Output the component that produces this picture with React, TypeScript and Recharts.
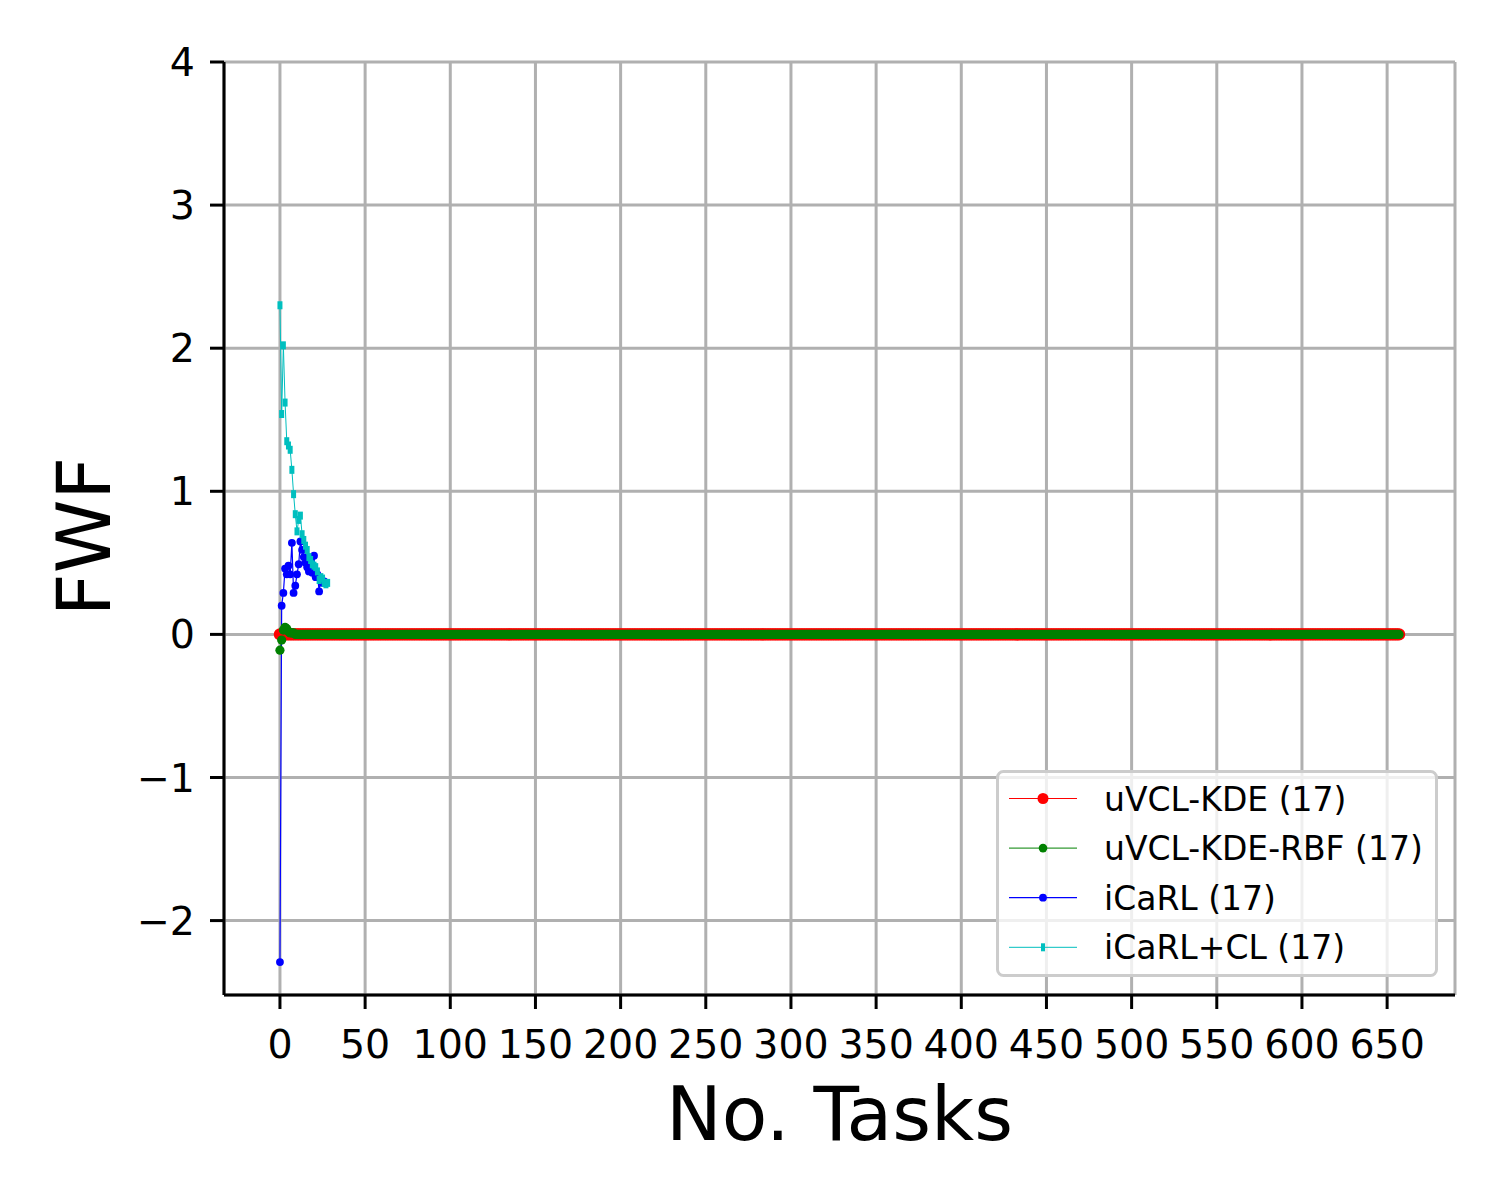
import React from "react";
import {
  LineChart,
  Line,
  XAxis,
  YAxis,
  CartesianGrid,
  Legend,
  Label,
} from "recharts";

// tick labels
const X_TICKS = [0, 50, 100, 150, 200, 250, 300, 350, 400, 450, 500, 550, 600, 650];
const Y_TICKS = [-2, -1, 0, 1, 2, 3, 4];

// FWF per task index (0..657)
const UVCL_KDE = [
  0,0,0,0,0,0,0,0,0,0, 0,0,0,0,0,0,0,0,0,0, 0,0,0,0,0,0,0,0,0,0, 0,0,0,0,0,0,0,0,0,0,
  0,0,0,0,0,0,0,0,0,0, 0,0,0,0,0,0,0,0,0,0, 0,0,0,0,0,0,0,0,0,0, 0,0,0,0,0,0,0,0,0,0,
  0,0,0,0,0,0,0,0,0,0, 0,0,0,0,0,0,0,0,0,0, 0,0,0,0,0,0,0,0,0,0, 0,0,0,0,0,0,0,0,0,0,
  0,0,0,0,0,0,0,0,0,0, 0,0,0,0,0,0,0,0,0,0, 0,0,0,0,0,0,0,0,0,0, 0,0,0,0,0,0,0,0,0,0,
  0,0,0,0,0,0,0,0,0,0, 0,0,0,0,0,0,0,0,0,0, 0,0,0,0,0,0,0,0,0,0, 0,0,0,0,0,0,0,0,0,0,
  0,0,0,0,0,0,0,0,0,0, 0,0,0,0,0,0,0,0,0,0, 0,0,0,0,0,0,0,0,0,0, 0,0,0,0,0,0,0,0,0,0,
  0,0,0,0,0,0,0,0,0,0, 0,0,0,0,0,0,0,0,0,0, 0,0,0,0,0,0,0,0,0,0, 0,0,0,0,0,0,0,0,0,0,
  0,0,0,0,0,0,0,0,0,0, 0,0,0,0,0,0,0,0,0,0, 0,0,0,0,0,0,0,0,0,0, 0,0,0,0,0,0,0,0,0,0,
  0,0,0,0,0,0,0,0,0,0, 0,0,0,0,0,0,0,0,0,0, 0,0,0,0,0,0,0,0,0,0, 0,0,0,0,0,0,0,0,0,0,
  0,0,0,0,0,0,0,0,0,0, 0,0,0,0,0,0,0,0,0,0, 0,0,0,0,0,0,0,0,0,0, 0,0,0,0,0,0,0,0,0,0,
  0,0,0,0,0,0,0,0,0,0, 0,0,0,0,0,0,0,0,0,0, 0,0,0,0,0,0,0,0,0,0, 0,0,0,0,0,0,0,0,0,0,
  0,0,0,0,0,0,0,0,0,0, 0,0,0,0,0,0,0,0,0,0, 0,0,0,0,0,0,0,0,0,0, 0,0,0,0,0,0,0,0,0,0,
  0,0,0,0,0,0,0,0,0,0, 0,0,0,0,0,0,0,0,0,0, 0,0,0,0,0,0,0,0,0,0, 0,0,0,0,0,0,0,0,0,0,
  0,0,0,0,0,0,0,0,0,0, 0,0,0,0,0,0,0,0,0,0, 0,0,0,0,0,0,0,0,0,0, 0,0,0,0,0,0,0,0,0,0,
  0,0,0,0,0,0,0,0,0,0, 0,0,0,0,0,0,0,0,0,0, 0,0,0,0,0,0,0,0,0,0, 0,0,0,0,0,0,0,0,0,0,
  0,0,0,0,0,0,0,0,0,0, 0,0,0,0,0,0,0,0,0,0, 0,0,0,0,0,0,0,0,0,0, 0,0,0,0,0,0,0,0,0,0,
  0,0,0,0,0,0,0,0,0,0, 0,0,0,0,0,0,0,0,
];

const UVCL_KDE_RBF = [
  -0.11,-0.04,0.03,0.05,0.04,0.02,0.01,0.01,0.01,0, 0,0,0,0,0,0,0,0,0,0, 0,0,0,0,0,0,0,0,0,0, 0,0,0,0,0,0,0,0,0,0,
  0,0,0,0,0,0,0,0,0,0, 0,0,0,0,0,0,0,0,0,0, 0,0,0,0,0,0,0,0,0,0, 0,0,0,0,0,0,0,0,0,0,
  0,0,0,0,0,0,0,0,0,0, 0,0,0,0,0,0,0,0,0,0, 0,0,0,0,0,0,0,0,0,0, 0,0,0,0,0,0,0,0,0,0,
  0,0,0,0,0,0,0,0,0,0, 0,0,0,0,0,0,0,0,0,0, 0,0,0,0,0,0,0,0,0,0, 0,0,0,0,0,0,0,0,0,0,
  0,0,0,0,0,0,0,0,0,0, 0,0,0,0,0,0,0,0,0,0, 0,0,0,0,0,0,0,0,0,0, 0,0,0,0,0,0,0,0,0,0,
  0,0,0,0,0,0,0,0,0,0, 0,0,0,0,0,0,0,0,0,0, 0,0,0,0,0,0,0,0,0,0, 0,0,0,0,0,0,0,0,0,0,
  0,0,0,0,0,0,0,0,0,0, 0,0,0,0,0,0,0,0,0,0, 0,0,0,0,0,0,0,0,0,0, 0,0,0,0,0,0,0,0,0,0,
  0,0,0,0,0,0,0,0,0,0, 0,0,0,0,0,0,0,0,0,0, 0,0,0,0,0,0,0,0,0,0, 0,0,0,0,0,0,0,0,0,0,
  0,0,0,0,0,0,0,0,0,0, 0,0,0,0,0,0,0,0,0,0, 0,0,0,0,0,0,0,0,0,0, 0,0,0,0,0,0,0,0,0,0,
  0,0,0,0,0,0,0,0,0,0, 0,0,0,0,0,0,0,0,0,0, 0,0,0,0,0,0,0,0,0,0, 0,0,0,0,0,0,0,0,0,0,
  0,0,0,0,0,0,0,0,0,0, 0,0,0,0,0,0,0,0,0,0, 0,0,0,0,0,0,0,0,0,0, 0,0,0,0,0,0,0,0,0,0,
  0,0,0,0,0,0,0,0,0,0, 0,0,0,0,0,0,0,0,0,0, 0,0,0,0,0,0,0,0,0,0, 0,0,0,0,0,0,0,0,0,0,
  0,0,0,0,0,0,0,0,0,0, 0,0,0,0,0,0,0,0,0,0, 0,0,0,0,0,0,0,0,0,0, 0,0,0,0,0,0,0,0,0,0,
  0,0,0,0,0,0,0,0,0,0, 0,0,0,0,0,0,0,0,0,0, 0,0,0,0,0,0,0,0,0,0, 0,0,0,0,0,0,0,0,0,0,
  0,0,0,0,0,0,0,0,0,0, 0,0,0,0,0,0,0,0,0,0, 0,0,0,0,0,0,0,0,0,0, 0,0,0,0,0,0,0,0,0,0,
  0,0,0,0,0,0,0,0,0,0, 0,0,0,0,0,0,0,0,0,0, 0,0,0,0,0,0,0,0,0,0, 0,0,0,0,0,0,0,0,0,0,
  0,0,0,0,0,0,0,0,0,0, 0,0,0,0,0,0,0,0,
];

const ICARL = [
  -2.29, 0.2, 0.29, 0.46, 0.42, 0.48, 0.42, 0.64, 0.29, 0.34,
  0.42, 0.49, 0.65, 0.59, 0.54, 0.5, 0.47, 0.44, 0.44, 0.43,
  0.55, 0.4, 0.42, 0.3, 0.39, 0.36, 0.37,
];

const ICARL_CL = [
  2.3, 1.54, 2.02, 1.62, 1.35, 1.32, 1.29, 1.15, 0.98, 0.84,
  0.72, 0.8, 0.83, 0.7, 0.66, 0.62, 0.59, 0.54, 0.52, 0.49,
  0.48, 0.47, 0.44, 0.38, 0.4, 0.39, 0.36, 0.35, 0.36,
];

const toPoints = (vals: number[]) => vals.map((y, x) => ({ x, y }));

const SERIES = [
  { name: "uVCL-KDE (17)", color: "#ff0000", width: 1, r: 5.5 },
  { name: "uVCL-KDE-RBF (17)", color: "#008000", width: 1, r: 4.3 },
  { name: "iCaRL (17)", color: "#0000ff", width: 1.2, r: 3.9 },
  { name: "iCaRL+CL (17)", color: "#00bfbf", width: 1, r: 0 },
];

const FONT = "DejaVu Sans";

function CyanDot(p: any) {
  if (p.cx == null || p.cy == null) return <g key={`c-${p.index}`} />;
  return (
    <rect
      key={`c-${p.index}`}
      x={p.cx - 2.5}
      y={p.cy - 4}
      width={5}
      height={8}
      fill="#00bfbf"
    />
  );
}

function LegendBox() {
  return (
    <svg width={442} height={207} style={{ display: "block" }}>
      <rect
        x={1.5}
        y={1.5}
        width={439}
        height={204}
        rx={6}
        fill="rgba(255,255,255,0.8)"
        stroke="#cccccc"
        strokeWidth={3}
      />
      {SERIES.map((s, i) => {
        const cy = 28.5 + i * 49.6;
        return (
          <g key={s.name}>
            <line x1={13} x2={81} y1={cy} y2={cy} stroke={s.color} strokeWidth={s.width} />
            {s.r > 0 ? (
              <circle cx={47} cy={cy} r={s.r} fill={s.color} />
            ) : (
              <rect x={45} y={cy - 4} width={4} height={8} fill={s.color} />
            )}
            <text x={108} y={cy + 12} fontSize={33} fontFamily={FONT} fill="#000">
              {s.name}
            </text>
          </g>
        );
      })}
    </svg>
  );
}

const fmtY = (v: number) => (v < 0 ? `\u2212${Math.abs(v)}` : `${v}`);

export default function App() {
  return (
    <div style={{ width: 1492, height: 1192, fontFamily: FONT }}>
      <LineChart width={1492} height={1192} margin={{ top: 54, right: 45, bottom: 0, left: 0 }}>
        <CartesianGrid stroke="#b0b0b0" strokeWidth={3} />
        <XAxis
          type="number"
          dataKey="x"
          domain={[-32.85, 689.85]}
          allowDataOverflow
          ticks={X_TICKS}
          interval={0}
          height={205}
          tickSize={14}
          tickMargin={21}
          tick={{ fill: "#000", fontSize: 39.5, fontFamily: FONT }}
          tickLine={{ stroke: "#000", strokeWidth: 3 }}
          axisLine={{ stroke: "#000", strokeWidth: 3 }}
        >
          <Label
            content={({ viewBox }: any) => (
              <text
                x={viewBox.x + viewBox.width / 2}
                y={viewBox.y + viewBox.height - 60}
                textAnchor="middle"
                fontSize={74.5}
                fontFamily={FONT}
                fill="#000"
              >
                No. Tasks
              </text>
            )}
          />
        </XAxis>
        <XAxis
          xAxisId="top"
          orientation="top"
          type="number"
          dataKey="x"
          domain={[-32.85, 689.85]}
          allowDataOverflow
          height={0}
          tick={false}
          tickLine={false}
          axisLine={{ stroke: "#000", strokeWidth: 3 }}
        />
        <YAxis
          type="number"
          domain={[-2.52, 4]}
          allowDataOverflow
          ticks={Y_TICKS}
          interval={0}
          width={216}
          tickSize={14}
          tickMargin={15}
          tickFormatter={fmtY}
          tick={{ fill: "#000", fontSize: 39.5, fontFamily: FONT }}
          tickLine={{ stroke: "#000", strokeWidth: 3 }}
          axisLine={{ stroke: "#000", strokeWidth: 3 }}
        >
          <Label
            content={({ viewBox }: any) => {
              const cx = 102;
              const cy = viewBox.y + viewBox.height / 2 + 8;
              return (
                <text
                  x={cx}
                  y={cy}
                  transform={`rotate(-90 ${cx} ${cy})`}
                  textAnchor="middle"
                  fontSize={74.5}
                  fontFamily={FONT}
                  fill="#000"
                >
                  FWF
                </text>
              );
            }}
          />
        </YAxis>
        <YAxis
          yAxisId="right"
          orientation="right"
          type="number"
          domain={[-2.52, 4]}
          allowDataOverflow
          width={0}
          tick={false}
          tickLine={false}
          axisLine={{ stroke: "#000", strokeWidth: 3 }}
        />
        <Line
          data={toPoints(UVCL_KDE)}
          dataKey="y"
          name="uVCL-KDE (17)"
          stroke="#ff0000"
          strokeWidth={1}
          dot={{ r: 6.2, fill: "#ff0000", stroke: "none" }}
          activeDot={false}
          isAnimationActive={false}
        />
        <Line
          data={toPoints(UVCL_KDE_RBF)}
          dataKey="y"
          name="uVCL-KDE-RBF (17)"
          stroke="#008000"
          strokeWidth={1}
          dot={{ r: 4.6, fill: "#008000", stroke: "none" }}
          activeDot={false}
          isAnimationActive={false}
        />
        <Line
          data={toPoints(ICARL)}
          dataKey="y"
          name="iCaRL (17)"
          stroke="#0000ff"
          strokeWidth={1.2}
          dot={{ r: 3.9, fill: "#0000ff", stroke: "none" }}
          activeDot={false}
          isAnimationActive={false}
        />
        <Line
          data={toPoints(ICARL_CL)}
          dataKey="y"
          name="iCaRL+CL (17)"
          stroke="#00bfbf"
          strokeWidth={1}
          dot={CyanDot}
          activeDot={false}
          isAnimationActive={false}
        />
        <Legend
          layout="vertical"
          align="center"
          verticalAlign="middle"
          wrapperStyle={{ left: 988, top: 762, width: 442, height: 207 }}
          content={() => <LegendBox />}
        />
      </LineChart>
    </div>
  );
}
